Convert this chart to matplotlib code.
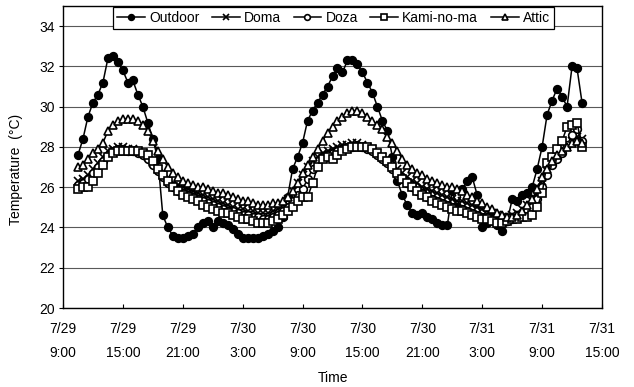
import numpy as np
import matplotlib
matplotlib.use("Agg")
import matplotlib.pyplot as plt

plt.rcParams['font.family'] = ['Liberation Sans', 'DejaVu Sans']

# hours elapsed since 7/29 9:00 (30-minute logging interval)
hours = np.arange(1.5, 52.01, 0.5)

outdoor = [27.6, 28.4, 29.5, 30.2, 30.6, 31.2, 32.4, 32.5, 32.2, 31.8,
           31.2, 31.3, 30.6, 30.0, 29.2, 28.4, 27.4, 24.6, 24.0, 23.6,
           23.5, 23.5, 23.6, 23.7, 24.0, 24.2, 24.3, 24.0, 24.3, 24.2,
           24.1, 23.9, 23.7, 23.5, 23.5, 23.5, 23.5, 23.6, 23.7, 23.8,
           24.0, 24.5, 25.5, 26.9, 27.5, 28.2, 29.3, 29.8, 30.2, 30.6,
           31.0, 31.5, 31.9, 31.7, 32.3, 32.3, 32.1, 31.7, 31.2, 30.7,
           30.0, 29.3, 28.8, 27.5, 26.3, 25.6, 25.1, 24.7, 24.6, 24.7,
           24.5, 24.4, 24.2, 24.1, 24.1, 25.8, 25.0, 25.9, 26.3, 26.5,
           25.6, 24.0, 24.2, 24.5, 24.1, 23.8, 24.3, 25.4, 25.3, 25.6,
           25.7, 26.0, 26.9, 28.0, 29.6, 30.3, 30.9, 30.5, 30.0, 32.0,
           31.9, 30.2]

doma = [26.3, 26.4, 26.6, 26.9, 27.2, 27.5, 27.8, 27.9, 28.0, 28.0,
        27.9, 27.9, 27.8, 27.7, 27.5, 27.2, 26.9, 26.6, 26.4, 26.2,
        26.1, 26.0, 25.9, 25.8, 25.7, 25.6, 25.5, 25.4, 25.3, 25.2,
        25.1, 25.0, 24.9, 24.9, 24.8, 24.8, 24.7, 24.7, 24.7, 24.8,
        24.9, 25.1, 25.4, 25.8, 26.2, 26.6, 27.0, 27.3, 27.5, 27.7,
        27.8, 27.9, 28.0, 28.1, 28.1, 28.2, 28.2, 28.1, 28.0, 27.9,
        27.7, 27.5, 27.3, 27.1, 26.9, 26.7, 26.5, 26.3, 26.2, 26.0,
        25.9, 25.8, 25.7, 25.6, 25.5, 25.4, 25.3, 25.3, 25.2, 25.1,
        25.0, 24.9, 24.8, 24.7, 24.6, 24.5, 24.5, 24.6, 24.7, 24.9,
        25.1, 25.3, 25.7, 26.3, 26.8, 27.2, 27.5, 27.8, 28.0, 28.3,
        28.5, 28.4]

doza = [26.1, 26.2, 26.4, 26.7, 27.0, 27.3, 27.6, 27.8, 27.9, 27.9,
        27.8, 27.8, 27.7, 27.6, 27.4, 27.1, 26.8, 26.5, 26.2, 26.0,
        25.8, 25.7, 25.6, 25.5, 25.4, 25.3, 25.2, 25.1, 25.0, 24.9,
        24.8, 24.8, 24.7, 24.6, 24.6, 24.5, 24.5, 24.4, 24.4, 24.5,
        24.6, 24.8, 25.0, 25.3, 25.6, 25.9, 26.4, 26.9, 27.3, 27.5,
        27.6, 27.7, 27.8, 27.9, 28.0, 28.0, 28.1, 28.0, 27.9, 27.8,
        27.6, 27.4, 27.2, 26.9, 26.6, 26.4, 26.2, 26.0, 25.8, 25.7,
        25.5, 25.4, 25.3, 25.2, 25.1, 25.0, 24.9, 24.9, 24.8, 24.7,
        24.6, 24.5, 24.5, 24.4, 24.3, 24.3, 24.3, 24.4, 24.5, 24.6,
        24.8, 25.0, 25.4, 26.0, 26.6, 27.1, 27.4, 27.7, 28.1, 28.6,
        28.9, 28.3]

kaminoma = [25.9, 26.0, 26.0, 26.3, 26.7, 27.1, 27.5, 27.7, 27.8, 27.8,
            27.8, 27.8, 27.8, 27.7, 27.6, 27.3, 26.9, 26.6, 26.3, 26.0,
            25.8, 25.6, 25.5, 25.4, 25.3, 25.1, 25.0, 24.9, 24.8, 24.7,
            24.7, 24.6, 24.5, 24.4, 24.4, 24.3, 24.2, 24.2, 24.2, 24.3,
            24.4, 24.6, 24.8, 25.0, 25.3, 25.5, 25.5, 26.2, 27.0, 27.4,
            27.5, 27.4, 27.6, 27.8, 27.9, 28.0, 28.0, 28.0, 28.0, 27.9,
            27.7, 27.5, 27.3, 27.0, 26.7, 26.4, 26.2, 26.0, 25.8, 25.6,
            25.5, 25.3, 25.2, 25.1, 25.0, 24.9, 24.8, 24.8, 24.7, 24.6,
            24.5, 24.4, 24.4, 24.3, 24.2, 24.2, 24.3, 24.4, 24.4, 24.5,
            24.5, 24.6, 25.0, 25.7, 27.2, 27.5, 27.9, 28.3, 29.0, 29.1,
            29.2, 28.0]

attic = [27.0, 27.1, 27.4, 27.7, 27.9, 28.2, 28.8, 29.1, 29.3, 29.4,
         29.4, 29.4, 29.3, 29.1, 28.8, 28.3, 27.8, 27.4, 27.0, 26.7,
         26.5, 26.3, 26.2, 26.1, 26.0, 26.0, 25.9, 25.8, 25.7, 25.7,
         25.6, 25.5, 25.4, 25.3, 25.3, 25.2, 25.1, 25.1, 25.1, 25.2,
         25.2, 25.3, 25.5, 25.8, 26.2, 26.7, 27.1, 27.5, 27.9, 28.3,
         28.7, 29.0, 29.3, 29.5, 29.7, 29.8, 29.8, 29.7, 29.5, 29.3,
         29.1, 28.9, 28.5, 28.2, 27.8, 27.4, 27.1, 26.9, 26.7, 26.6,
         26.4, 26.3, 26.2, 26.1, 26.0, 26.0, 25.9, 25.8, 25.6, 25.5,
         25.3, 25.2, 25.0, 24.9, 24.7, 24.6, 24.5, 24.5, 24.6, 24.8,
         25.1, 25.4, 25.9, 26.5, 26.9, 27.3, 27.6, 27.8, 28.0, 28.2,
         28.3, 28.2]

tick_hours = [0, 6, 12, 18, 24, 30, 36, 42, 48, 54]
tick_labels = ["7/29\n9:00", "7/29\n15:00", "7/29\n21:00", "7/30\n3:00",
               "7/30\n9:00", "7/30\n15:00", "7/30\n21:00", "7/31\n3:00",
               "7/31\n9:00", "7/31\n15:00"]
y_ticks = [20, 22, 24, 26, 28, 30, 32, 34]

fig = plt.figure(figsize=(6.34, 3.87), dpi=100)
ax = fig.add_axes([63/634, 1-308/387, 539/634, 302/387])

ax.set_axisbelow(True)
ax.yaxis.grid(True, color='0.35', lw=0.8)

kw = dict(color='black', lw=1.1, mec='black', mew=1.2, ms=5.5)
ax.plot(hours, outdoor, marker='o', mfc='black', label='Outdoor', **kw)
ax.plot(hours, doma, marker='x', label='Doma', **kw)
ax.plot(hours, doza, marker='o', mfc='white', label='Doza', **kw)
ax.plot(hours, kaminoma, marker='s', mfc='white', label='Kami-no-ma', **kw)
ax.plot(hours, attic, marker='^', mfc='white', label='Attic', **kw)

ax.set_xlim(0, 54)
ax.set_ylim(20, 35)
ax.set_yticks(y_ticks)
ax.set_xticks(tick_hours)
ax.set_xticklabels(tick_labels, linespacing=1.9)
ax.tick_params(axis='y', direction='out', length=3, labelsize=10, pad=3)
ax.tick_params(axis='x', direction='in', length=3, labelsize=10, pad=10)
for s in ax.spines.values():
    s.set_color('black')
    s.set_linewidth(1.0)

ax.set_xlabel('Time', fontsize=10, labelpad=8)
ax.set_ylabel('Temperature  (°C)', fontsize=10, labelpad=8)
ax.yaxis.set_label_coords(-0.075, 0.46)

leg = fig.legend(loc='upper center', bbox_to_anchor=(333.5/634, 1-7/387), ncol=5,
                 frameon=True, fancybox=False, edgecolor='black', framealpha=1,
                 fontsize=10, handlelength=2.0, handletextpad=0.3,
                 columnspacing=0.9, borderpad=0.3, borderaxespad=0,
                 markerscale=0.75)
leg.get_frame().set_linewidth(0.9)

fig.savefig('out.png', dpi=100)
